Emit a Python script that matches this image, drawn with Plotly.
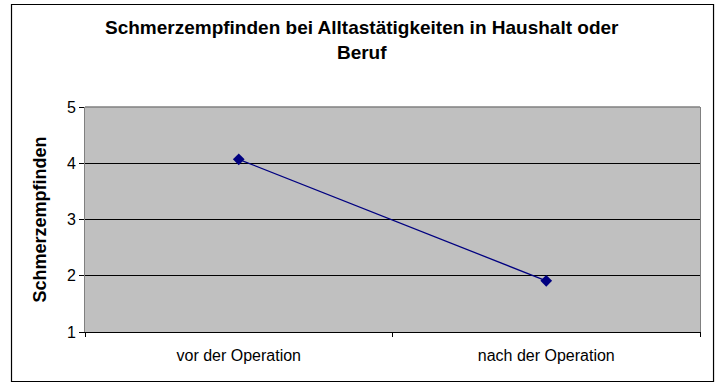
import plotly.graph_objects as go

# Pain ratings before and after surgery
categories = ["vor der Operation", "nach der Operation"]
schmerz = [4.07, 1.91]
y_ticks = [1, 2, 3, 4, 5]
title_text = "<b>Schmerzempfinden bei Alltastätigkeiten in Haushalt oder<br>Beruf</b>"

FONT = "Liberation Sans, Arial, sans-serif"
NAVY = "#000080"

fig = go.Figure(
    go.Scatter(
        x=categories,
        y=schmerz,
        mode="lines+markers",
        line=dict(color=NAVY, width=1.3),
        marker=dict(symbol="diamond", size=9, color=NAVY),
        showlegend=False,
        hoverinfo="x+y",
    )
)

fig.update_layout(
    width=721,
    height=383,
    margin=dict(l=85, r=21, t=107, b=51),
    paper_bgcolor="white",
    plot_bgcolor="#c0c0c0",
    font=dict(family=FONT, color="black"),
    xaxis=dict(
        type="category",
        range=[-0.5, 1.5],
        tickson="boundaries",
        ticks="outside",
        ticklen=4,
        tickcolor="black",
        showline=True,
        linecolor="black",
        linewidth=1,
        showgrid=False,
        tickfont=dict(size=16, family=FONT),
        ticklabelstandoff=9,
        fixedrange=True,
    ),
    yaxis=dict(
        range=[1, 5],
        tickvals=y_ticks,
        ticks="outside",
        ticklen=5,
        tickcolor="black",
        showline=True,
        linecolor="#808080",
        linewidth=1,
        mirror=True,
        showgrid=True,
        gridcolor="black",
        gridwidth=1,
        zeroline=False,
        tickfont=dict(size=16, family=FONT),
        title=dict(
            text="<b>Schmerzempfinden</b>",
            font=dict(size=18, family=FONT),
            standoff=15,
        ),
        fixedrange=True,
    ),
    annotations=[
        dict(
            text=title_text,
            xref="paper", yref="paper",
            x=(362 - 85) / 615, y=(332 - 15) / 225,
            xanchor="center", yanchor="top",
            showarrow=False,
            align="center",
            font=dict(size=19, family=FONT, color="black"),
        )
    ],
    shapes=[
        # outer chart frame
        dict(
            type="rect", xref="paper", yref="paper",
            x0=-0.1195, x1=1.022, y0=-0.22, y1=1.4556,
            line=dict(color="black", width=1.2), layer="below",
        ),
        # grey top edge of the plot area
        dict(
            type="line", xref="paper", yref="paper",
            x0=0, x1=1, y0=1, y1=1,
            line=dict(color="#808080", width=1.5),
        ),
    ],
)

fig.write_html("out.html")
